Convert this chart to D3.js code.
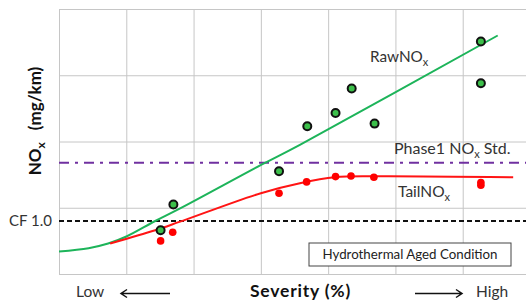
<!DOCTYPE html>
<html>
<head>
<meta charset="utf-8">
<script src="https://cdn.jsdelivr.net/npm/d3@7"></script>
<style>
  body { margin: 0; background: #fff; }
  svg { display: block; font-family: Lato, "Open Sans", sans-serif; }
</style>
</head>
<body>
<div id="chart"></div>
<script>
var svgWidth = 526;
var svgHeight = 302;

// measured points (severity units, NOx units)
var rawX = [1.51, 1.70, 3.27, 3.69, 4.11, 4.35, 4.69, 6.27, 6.27];
var rawY = [0.66, 1.05, 1.55, 2.23, 2.43, 2.80, 2.27, 3.51, 2.88];
var tailX = [1.51, 1.69, 3.27, 3.68, 4.11, 4.34, 4.68, 6.27, 6.27];
var tailY = [0.50, 0.63, 1.22, 1.39, 1.47, 1.48, 1.46, 1.38, 1.34];

// trend curves
var rawFitX = [0, 0.44, 0.73, 1.01, 1.43, 1.80, 3.01, 3.58, 6.52];
var rawFitY = [0.34, 0.39, 0.46, 0.57, 0.80, 0.99, 1.65, 1.95, 3.60];
var tailFitX = [0.76, 1.43, 1.80, 3.00, 3.58, 4.10, 4.69, 6.75];
var tailFitY = [0.46, 0.66, 0.79, 1.22, 1.37, 1.46, 1.475, 1.46];

var cfLevel = 0.8;
var phase1Level = 1.68;
var xGrid = [0, 1, 2, 3, 4, 5, 6];
var yGrid = [0, 1, 2, 3, 4];

var svg = d3.select("#chart")
	.append("svg")
	.attr("width", svgWidth)
	.attr("height", svgHeight);

var x = d3.scaleLinear().domain([0, 7]).range([59, 530]);
var y = d3.scaleLinear().domain([0, 4]).range([274, 9]);

// grid
svg.append("g")
	.attr("transform", "translate(0,274)")
	.call(d3.axisBottom(x).tickValues(xGrid).tickSize(-265).tickFormat(""))
	.call(function(g) { g.select(".domain").remove(); })
	.selectAll("line").attr("stroke", "#c6c6c6");

svg.append("g")
	.attr("transform", "translate(59,0)")
	.call(d3.axisLeft(y).tickValues(yGrid).tickSize(-470).tickFormat(""))
	.call(function(g) { g.select(".domain").remove(); })
	.selectAll("line").attr("stroke", "#c6c6c6");

// reference levels
svg.append("line")
	.attr("x1", x(0)).attr("x2", svgWidth)
	.attr("y1", y(cfLevel)).attr("y2", y(cfLevel))
	.attr("stroke", "#111").attr("stroke-width", 2)
	.attr("stroke-dasharray", "5,3");

svg.append("line")
	.attr("x1", x(0)).attr("x2", svgWidth)
	.attr("y1", y(phase1Level)).attr("y2", y(phase1Level))
	.attr("stroke", "#7030a0").attr("stroke-width", 2)
	.attr("stroke-dasharray", "10,6,3,6");

var line = d3.line()
	.x(function(d) { return x(d[0]); })
	.y(function(d) { return y(d[1]); })
	.curve(d3.curveCatmullRom);

svg.append("path")
	.datum(d3.zip(rawFitX, rawFitY))
	.attr("fill", "none")
	.attr("stroke", "#1db45a")
	.attr("stroke-width", 2)
	.attr("d", line);

svg.append("path")
	.datum(d3.zip(tailFitX, tailFitY))
	.attr("fill", "none")
	.attr("stroke", "#ff1414")
	.attr("stroke-width", 2)
	.attr("d", line);

svg.selectAll(".tail")
	.data(d3.zip(tailX, tailY))
	.enter().append("circle")
	.attr("class", "tail")
	.attr("r", 3.8)
	.attr("cx", function(d) { return x(d[0]); })
	.attr("cy", function(d) { return y(d[1]); })
	.attr("fill", "#ff0000");

svg.selectAll(".raw")
	.data(d3.zip(rawX, rawY))
	.enter().append("circle")
	.attr("class", "raw")
	.attr("r", 4)
	.attr("cx", function(d) { return x(d[0]); })
	.attr("cy", function(d) { return y(d[1]); })
	.attr("fill", "#3cbf4a")
	.attr("stroke", "#111")
	.attr("stroke-width", 2);

// labels with subscript
function subLabel(px, py, size, pre, post) {
	var t = svg.append("text")
		.attr("x", px).attr("y", py)
		.attr("font-size", size)
		.attr("fill", "#333");
	t.append("tspan").text(pre);
	t.append("tspan").attr("font-size", 11).attr("dy", 4).text("x");
	if (post) t.append("tspan").attr("dy", -4).text(post);
	return t;
}
subLabel(370, 62, 15.3, "RawNO", null);
subLabel(394, 154, 16, "Phase1 NO", " Std.");
subLabel(398, 197, 15.5, "TailNO", null);

svg.append("text")
	.attr("x", 52).attr("y", 226)
	.attr("text-anchor", "end")
	.attr("font-size", 15)
	.attr("fill", "#333")
	.text("CF 1.0");

// condition box
svg.append("rect")
	.attr("x", 309).attr("y", 243)
	.attr("width", 202).attr("height", 23)
	.attr("fill", "#fff")
	.attr("stroke", "#444").attr("stroke-width", 1);

svg.append("text")
	.attr("x", 410).attr("y", 259)
	.attr("text-anchor", "middle")
	.attr("font-size", 13.3)
	.attr("fill", "#222")
	.text("Hydrothermal Aged Condition");

// axis titles
var yl = svg.append("text")
	.attr("transform", "translate(41,121) rotate(-90)")
	.attr("text-anchor", "middle")
	.attr("font-size", 17)
	.attr("font-weight", "bold")
	.attr("fill", "#111");
yl.append("tspan").text("NO");
yl.append("tspan").attr("font-size", 12).attr("dy", 4).text("x");
yl.append("tspan").attr("dy", -4).attr("dx", 12).text("(mg/km)");

svg.append("text")
	.attr("x", 250).attr("y", 297)
	.attr("font-size", 17.5)
	.attr("letter-spacing", 0.8)
	.attr("font-weight", "bold")
	.attr("fill", "#111")
	.text("Severity (%)");

svg.append("text")
	.attr("x", 76).attr("y", 297)
	.attr("font-size", 15.5)
	.attr("fill", "#333")
	.text("Low");

svg.append("text")
	.attr("x", 476).attr("y", 297)
	.attr("font-size", 15.5)
	.attr("fill", "#333")
	.text("High");

// arrows
svg.append("path")
	.attr("d", "M170,293.5H121M127,289.5L121,293.5L127,297.5")
	.attr("fill", "none").attr("stroke", "#111").attr("stroke-width", 1.5);
svg.append("path")
	.attr("d", "M415,293.5H462M456,289.5L462,293.5L456,297.5")
	.attr("fill", "none").attr("stroke", "#111").attr("stroke-width", 1.5);
</script>
</body>
</html>
